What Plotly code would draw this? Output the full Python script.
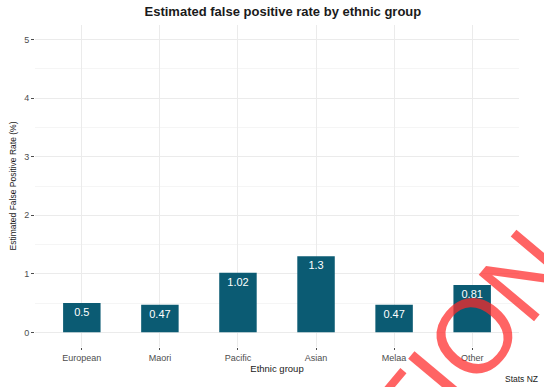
import plotly.graph_objects as go

# data
groups = ["European", "Maori", "Pacific", "Asian", "Melaa", "Other"]
fpr = [0.5, 0.47, 1.02, 1.3, 0.47, 0.81]
bar_labels = ["0.5", "0.47", "1.02", "1.3", "0.47", "0.81"]
y_ticks = [0, 1, 2, 3, 4, 5]

bar_col = "#0b5b73"
grid_col = "#ebebeb"
fnt = "Liberation Sans"

fig = go.Figure()

fig.add_trace(go.Bar(
    x=groups, y=fpr, width=0.48,
    marker=dict(color=bar_col, line=dict(width=0)),
    text=bar_labels, textposition="inside", insidetextanchor="end",
    textfont=dict(color="white", size=11, family=fnt),
    textangle=0, hoverinfo="x+y"))

fig.update_layout(
    width=544, height=387,
    margin=dict(l=35, r=25, t=25, b=40),
    plot_bgcolor="white", paper_bgcolor="white",
    showlegend=False,
    font=dict(family=fnt, size=9, color="#4d4d4d"),
    title=dict(text="<b>Estimated false positive rate by ethnic group</b>",
               x=0.52, xanchor="center", y=0.97, yanchor="middle",
               font=dict(size=13, color="#1a1a1a", family=fnt)),
    xaxis=dict(range=[-0.6, 5.6], showgrid=True, gridcolor=grid_col, gridwidth=1,
               ticks="outside", ticklen=2, tickcolor="#4d4d4d",
               tickfont=dict(size=9, color="#4d4d4d"),
               title=dict(text="Ethnic group", standoff=0,
                          font=dict(size=9.5, color="#1a1a1a")),
               zeroline=False, showline=False),
    yaxis=dict(range=[-0.25, 5.25], tickvals=y_ticks, showgrid=True,
               gridcolor=grid_col, gridwidth=1,
               minor=dict(dtick=0.5, showgrid=True, gridcolor="#f5f5f5", gridwidth=1),
               ticks="outside", ticklen=3, tickcolor="#4d4d4d",
               tickfont=dict(size=9, color="#4d4d4d"),
               title=dict(text="Estimated False Positive Rate (%)", standoff=6,
                          font=dict(size=8.5, color="#1a1a1a")),
               zeroline=False, showline=False),
    bargap=0.5,
)

fig.add_annotation(text="Stats NZ", xref="paper", yref="paper",
                   x=1.043, y=-0.122, xanchor="right", yanchor="bottom",
                   showarrow=False, font=dict(size=8.5, color="#1a1a1a", family=fnt))

# red watermark overlay
fig.add_annotation(text="TION", xref="paper", yref="paper",
                   x=0.895, y=0.015, xanchor="center", yanchor="middle",
                   showarrow=False, textangle=-50,
                   font=dict(size=105, color="rgba(255,40,40,0.72)", family=fnt))

fig.write_html("out.html", config={"displayModeBar": False},
               post_script="document.body.style.margin='0px';")
